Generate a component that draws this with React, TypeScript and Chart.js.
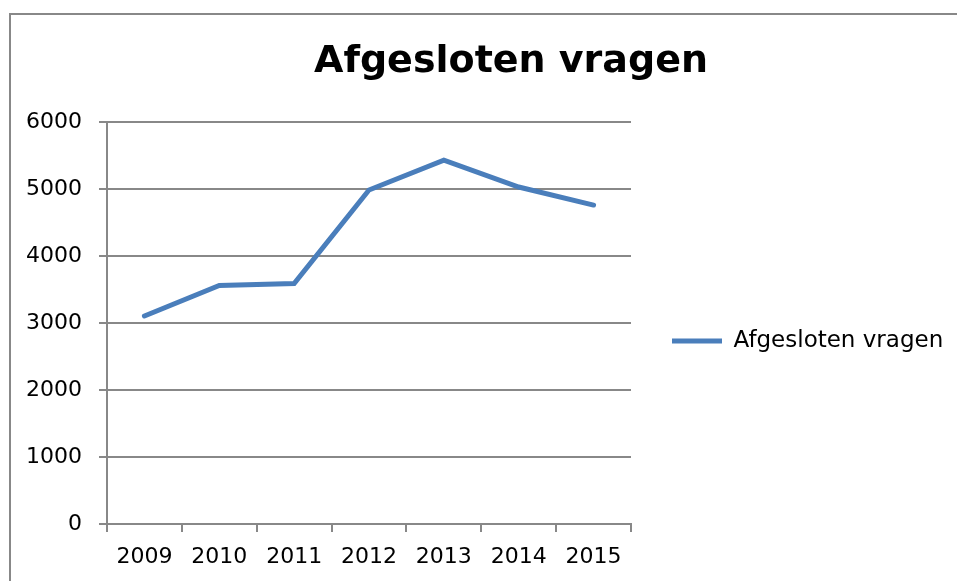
import React, { useEffect, useRef } from "react";
import { Chart, registerables } from "chart.js";

Chart.register(...registerables);

const TITLE = "Afgesloten vragen";
const SERIES_LABEL = "Afgesloten vragen";
const YEARS = ["2009", "2010", "2011", "2012", "2013", "2014", "2015"];
const VALUES = [3105, 3560, 3590, 4985, 5430, 5030, 4760];
const Y_MIN = 0;
const Y_MAX = 6000;
const Y_STEP = 1000;

const W = 1000;
const H = 652;
const FONT = "'DejaVu Sans'";
const GRID = "#888888";
const LINE = "#4a7ebb";
const LEGEND_SIZE = 23;
const TICK_SIZE = 22;

export default function App() {
  const ref = useRef<HTMLCanvasElement | null>(null);

  useEffect(() => {
    const canvas = ref.current;
    if (!canvas) return;
    const m = document.createElement("canvas").getContext("2d")!;
    m.font = `normal ${LEGEND_SIZE}px ${FONT}`;
    const textW = m.measureText(SERIES_LABEL).width;
    const legendPad = 41;
    const boxW = 50;
    const yAxisW = 96;
    const chartRight = 620;
    const legendW = 10 + legendPad + boxW + LEGEND_SIZE / 2 + textW;
    const spacer = Math.max(0, W - chartRight - legendW);

    const chart = new Chart(canvas, {
      type: "line",
      data: {
        labels: YEARS,
        datasets: [
          {
            label: SERIES_LABEL,
            data: VALUES,
            borderColor: LINE,
            backgroundColor: LINE,
            borderWidth: 5,
            borderCapStyle: "round",
            borderJoinStyle: "miter",
            pointRadius: 0,
            pointHoverRadius: 0,
            tension: 0,
            fill: false,
          },
        ],
      },
      options: {
        animation: false,
        responsive: false,
        devicePixelRatio: 1,
        layout: { padding: 0 },
        plugins: {
          tooltip: { enabled: false },
          title: {
            display: true,
            text: TITLE,
            color: "#000",
            font: { family: FONT, size: 38, weight: "bold" },
            padding: { top: 24, bottom: 37.4 },
          },
          legend: {
            display: true,
            position: "right",
            maxWidth: 600,
            labels: {
              usePointStyle: true,
              pointStyle: "line",
              pointStyleWidth: boxW,
              padding: legendPad,
              color: "#000",
              font: { family: FONT, size: LEGEND_SIZE },
            },
          },
        },
        scales: {
          x: {
            offset: true,
            grid: {
              offset: true,
              drawOnChartArea: false,
              color: GRID,
              lineWidth: 2,
              tickLength: 8,
            },
            border: { display: true, color: GRID, width: 2 },
            ticks: {
              color: "#000",
              font: { family: FONT, size: TICK_SIZE },
              padding: 12,
              maxRotation: 0,
              autoSkip: false,
            },
            afterFit: (s: any) => {
              s.height = H - 509;
            },
          },
          y: {
            min: Y_MIN,
            max: Y_MAX,
            grid: { color: GRID, lineWidth: 2, tickLength: 8 },
            border: { display: true, color: GRID, width: 2 },
            ticks: {
              stepSize: Y_STEP,
              color: "#000",
              font: { family: FONT, size: TICK_SIZE },
              padding: 17,
              callback: (v: any) => String(v),
            },
            afterFit: (s: any) => {
              s.width = yAxisW;
            },
          },
          spacer: {
            type: "linear",
            position: "right",
            weight: 2000,
            min: 0,
            max: 1,
            grid: { display: false },
            border: { display: false },
            ticks: { display: false },
            afterFit: (s: any) => {
              s.width = spacer;
            },
          },
        },
      },
    });
    return () => chart.destroy();
  }, []);

  return (
    <div
      style={{
        position: "fixed",
        left: 9,
        top: 13,
        width: 1100,
        height: 700,
        borderLeft: "2px solid #888",
        borderTop: "2px solid #888",
        background: "#fff",
      }}
    >
      <canvas ref={ref} width={W} height={H} style={{ display: "block", width: W, height: H }} />
    </div>
  );
}
